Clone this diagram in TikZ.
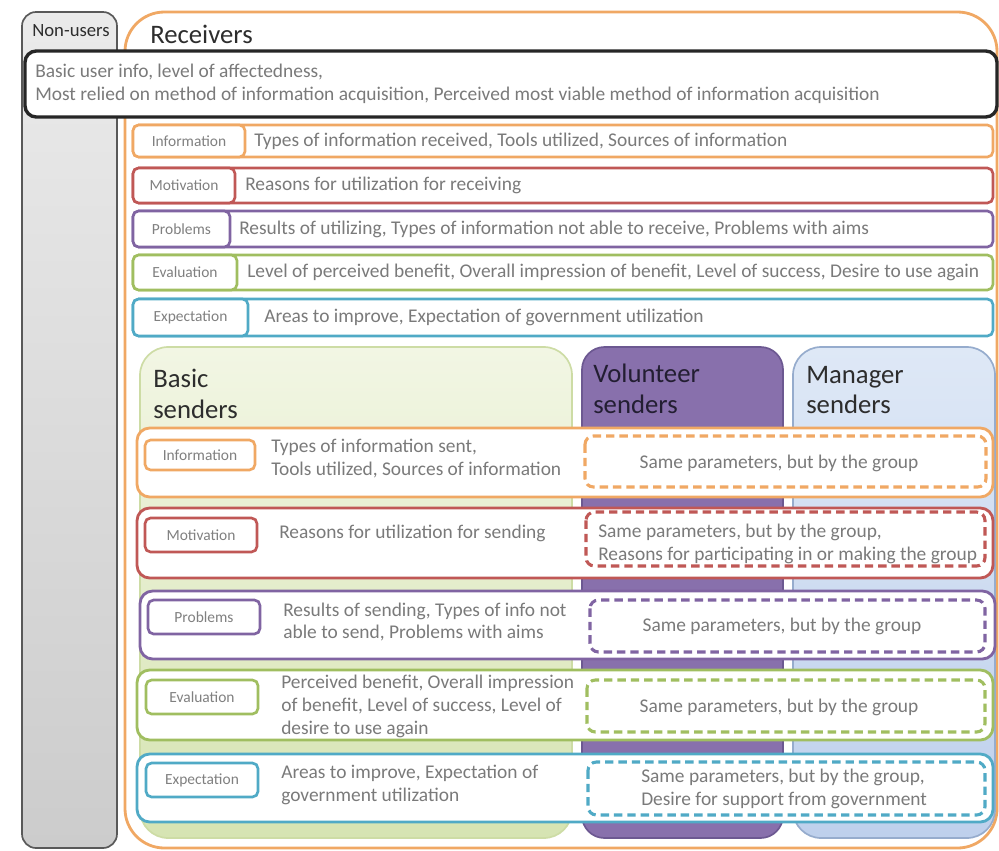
\documentclass[tikz,border=0pt]{standalone}
\usepackage{fontspec}
\setmainfont{Carlito}
\usetikzlibrary{positioning}
\usepackage{xcolor}
\definecolor{cat_orange}{RGB}{240,168,100}
\definecolor{cat_red}{RGB}{192,88,86}
\definecolor{cat_purple}{RGB}{128,100,162}
\definecolor{cat_green}{RGB}{160,190,96}
\definecolor{cat_blue}{RGB}{80,170,198}
\definecolor{body_gray}{RGB}{122,122,122}
\definecolor{tag_gray}{RGB}{128,128,128}
\definecolor{head_gray}{RGB}{45,45,45}

\tikzset{
  rowbox/.style={line width=1.9pt, rounded corners=4pt, fill=white},
  sendrow/.style={line width=2pt, rounded corners=9pt, fill=white},
  dashbox/.style={line width=2.2pt, rounded corners=6pt, dash pattern=on 6pt off 3.5pt},
  tagbox/.style={line width=1.9pt, rounded corners=4pt, fill=white, inner sep=0pt,
    text=tag_gray, font=\fontsize{11}{13}\selectfont},
  bodytext/.style={anchor=west, align=left, inner sep=0pt, text=body_gray,
    font=\fontsize{13.8}{16.3}\selectfont},
  headtext/.style={anchor=west, align=left, inner sep=0pt, text=head_gray,
    font=\fontsize{19}{22}\selectfont},
}

\begin{document}
\begin{tikzpicture}[x=0.025cm, y=-0.025cm]
  \useasboundingbox (0,0) rectangle (999,850);

  % 1. Columnas de fondo (non-users y receivers)
  \draw[line width=1.2pt, draw=black!65, rounded corners=10pt,
        top color=black!8, bottom color=black!20] (22,12) rectangle (117,848);
  \node[text=head_gray, font=\fontsize{13.3}{15}\selectfont] (nonusers) at (71,31) {Non-users};

  \draw[line width=2pt, draw=cat_orange, rounded corners=28pt] (125,12) rectangle (997,848);
  \node[headtext] (receivers) at (150,34) {Receivers};

  % Caja de info basica
  \draw[line width=2.4pt, draw=black!85, rounded corners=8pt, fill=white] (25,51) rectangle (997,117);
  \node[bodytext] (basicinfo) at (35,84) {Basic user info, level of affectedness,\\
    Most relied on method of information acquisition, Perceived most viable method of information acquisition};

  % 2. Filas de receivers
  % Information
  \draw[rowbox, draw=cat_orange] (133,125) rectangle (993,157);
  \node[tagbox, draw=cat_orange, minimum width=2.8cm, minimum height=0.8cm] (recinfo) at (189,141) {Information};
  \node[bodytext] (recinfotxt) at (254,141) {Types of information received, Tools utilized, Sources of information};

  % Motivation
  \draw[rowbox, draw=cat_red] (133,168) rectangle (993,203);
  \node[tagbox, draw=cat_red, minimum width=2.55cm, minimum height=0.875cm] (recmotiv) at (184,185.5) {Motivation};
  \node[bodytext] (recmotivtxt) at (245,185.5) {Reasons for utilization for receiving};

  % Problems
  \draw[rowbox, draw=cat_purple] (133,211) rectangle (993,247);
  \node[tagbox, draw=cat_purple, minimum width=2.425cm, minimum height=0.9cm] (recprob) at (181.5,229) {Problems};
  \node[bodytext] (recprobtxt) at (239,229) {Results of utilizing, Types of information not able to receive, Problems with aims};

  % Evaluation
  \draw[rowbox, draw=cat_green] (133,255) rectangle (993,290);
  \node[tagbox, draw=cat_green, minimum width=2.6cm, minimum height=0.875cm] (receval) at (185,272.5) {Evaluation};
  \node[bodytext] (recevaltxt) at (247,272.5) {Level of perceived benefit, Overall impression of benefit, Level of success, Desire to use again};

  % Expectation
  \draw[rowbox, draw=cat_blue] (133,299) rectangle (993,336);
  \node[tagbox, draw=cat_blue, minimum width=2.875cm, minimum height=0.925cm] (recexpect) at (190.5,317.5) {Expectation};
  \node[bodytext] (recexpecttxt) at (264,317.5) {Areas to improve, Expectation of government utilization};

  % 3. Columnas de senders
  \draw[line width=1.2pt, draw={rgb,255:red,205;green,220;blue,165}, rounded corners=20pt,
        top color={rgb,255:red,242;green,246;blue,228}, bottom color={rgb,255:red,214;green,228;blue,178}]
        (140,347) rectangle (572,838);
  \node[headtext] (basic) at (153,394) {Basic\\senders};

  \draw[line width=1.2pt, draw={rgb,255:red,108;green,88;blue,145}, rounded corners=16pt,
        fill={rgb,255:red,136;green,112;blue,172}] (582,347) rectangle (783,838);
  \node[headtext, text={rgb,255:red,35;green,30;blue,50}] (volunteer) at (593,389) {Volunteer\\senders};

  \draw[line width=1.2pt, draw={rgb,255:red,150;green,172;blue,205}, rounded corners=20pt,
        top color={rgb,255:red,222;green,232;blue,246}, bottom color={rgb,255:red,190;green,208;blue,236}]
        (793,347) rectangle (995,838);
  \node[headtext] (manager) at (806,390) {Manager\\senders};

  % 4. Filas de senders
  % Information
  \draw[sendrow, draw=cat_orange] (137,428) rectangle (993,497);
  \node[tagbox, draw=cat_orange, minimum width=2.75cm, minimum height=0.75cm] (sendinfo) at (200,455) {Information};
  \node[bodytext] (sendinfotxt) at (271,458.5) {Types of information sent,\\Tools utilized, Sources of information};
  \draw[dashbox, draw=cat_orange] (585,436) rectangle (986,487);
  \node[bodytext, anchor=center] (groupinfo) at (779,463) {Same parameters, but by the group};

  % Motivation
  \draw[sendrow, draw=cat_red] (137,508) rectangle (993,578);
  \node[tagbox, draw=cat_red, minimum width=2.8cm, minimum height=0.85cm] (sendmotiv) at (201,535) {Motivation};
  \node[bodytext] (sendmotivtxt) at (279,533) {Reasons for utilization for sending};
  \draw[dashbox, draw=cat_red] (586,512) rectangle (985,566);
  \node[bodytext] (groupmotiv) at (598,544) {Same parameters, but by the group,\\Reasons for participating in or making the group};

  % Problems
  \draw[sendrow, draw=cat_purple] (140,591) rectangle (995,659);
  \node[tagbox, draw=cat_purple, minimum width=2.8cm, minimum height=0.85cm] (sendprob) at (204,617) {Problems};
  \node[bodytext] (sendprobtxt) at (283,622) {Results of sending, Types of info not\\able to send, Problems with aims};
  \draw[dashbox, draw=cat_purple] (590,600) rectangle (985,652);
  \node[bodytext, anchor=center] (groupprob) at (782,626) {Same parameters, but by the group};

  % Evaluation
  \draw[sendrow, draw=cat_green] (137,670) rectangle (993,740);
  \node[tagbox, draw=cat_green, minimum width=2.8cm, minimum height=0.85cm] (sendeval) at (202,697) {Evaluation};
  \node[bodytext] (sendevaltxt) at (281,706) {Perceived benefit, Overall impression\\of benefit, Level of success, Level of\\desire to use again};
  \draw[dashbox, draw=cat_green] (587,680) rectangle (985,732);
  \node[bodytext, anchor=center] (groupeval) at (779,707) {Same parameters, but by the group};

  % Expectation
  \draw[sendrow, draw=cat_blue] (137,754) rectangle (993,822);
  \node[tagbox, draw=cat_blue, minimum width=2.8cm, minimum height=0.85cm] (sendexpect) at (202,780) {Expectation};
  \node[bodytext] (sendexpecttxt) at (281,784.5) {Areas to improve, Expectation of\\government utilization};
  \draw[dashbox, draw=cat_blue] (588,762) rectangle (985,815);
  \node[bodytext] (groupexpect) at (641,788.5) {Same parameters, but by the group,\\Desire for support from government};

\end{tikzpicture}
\end{document}
